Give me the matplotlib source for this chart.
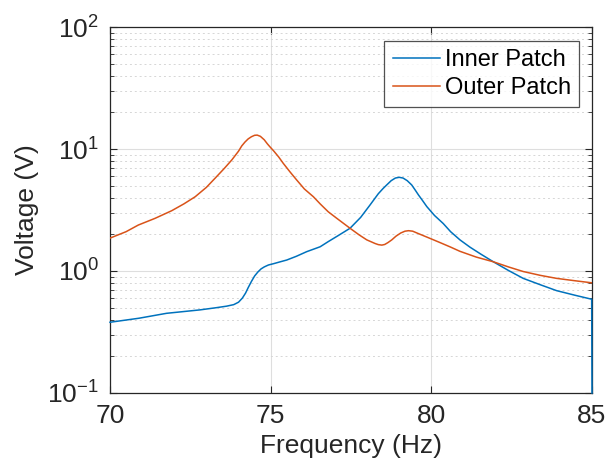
import matplotlib
matplotlib.use("Agg")
import matplotlib.pyplot as plt
from matplotlib.ticker import LogLocator, FixedLocator, NullFormatter

plt.rcParams['font.family'] = ['Liberation Sans', 'DejaVu Sans']
plt.rcParams['mathtext.fontset'] = 'custom'
plt.rcParams['mathtext.rm'] = 'Liberation Sans'
plt.rcParams['mathtext.it'] = 'Liberation Sans:italic'
plt.rcParams['mathtext.bf'] = 'Liberation Sans:bold'

# Data
inner_freq = [70.0, 70.9, 71.76, 72.8, 73.3, 73.63, 73.85, 74.0, 74.12, 74.22, 74.3, 74.4, 74.5,
              74.6, 74.7, 74.8, 74.93, 75.1, 75.3, 75.5, 75.8, 76.12, 76.54, 76.79, 77.1,
              77.47, 77.8, 78.09, 78.35, 78.5, 78.61, 78.75, 78.88, 79.0, 79.12, 79.25, 79.39,
              79.5, 79.6, 79.72, 79.86, 80.1, 80.37, 80.6, 80.89, 81.2, 81.55, 81.93, 82.4,
              82.86, 83.4, 83.9, 84.5, 84.99, 85.0]
inner_volt = [0.38, 0.41, 0.45, 0.48, 0.50, 0.515, 0.53, 0.555, 0.60, 0.66, 0.73, 0.82, 0.91,
              0.98, 1.04, 1.08, 1.12, 1.15, 1.19, 1.23, 1.32, 1.44, 1.58, 1.74, 1.95,
              2.24, 2.75, 3.47, 4.3, 4.75, 5.07, 5.5, 5.78, 5.86, 5.78, 5.5, 5.07,
              4.6, 4.2, 3.8, 3.37, 2.85, 2.45, 2.1, 1.80, 1.57, 1.37, 1.19, 1.01,
              0.87, 0.77, 0.69, 0.63, 0.587, 0.1]

outer_freq = [70.0, 70.5, 70.88, 71.4, 71.92, 72.3, 72.65, 73.0, 73.27, 73.55, 73.79, 74.0,
              74.1, 74.2, 74.3, 74.4, 74.5, 74.58, 74.68, 74.8, 74.9, 74.98, 75.1, 75.25,
              75.39, 75.6, 75.81, 76.05, 76.33, 76.54, 76.79, 77.06, 77.47, 77.75, 77.99, 78.25,
              78.35, 78.46, 78.55, 78.65, 78.77, 78.9, 79.05, 79.18, 79.29, 79.42, 79.55, 79.75,
              79.96, 80.27, 80.6, 80.89, 81.4, 81.93, 82.4, 82.86, 83.4, 83.9, 84.5, 85.0]
outer_volt = [1.86, 2.1, 2.38, 2.7, 3.12, 3.55, 4.06, 4.85, 5.76, 6.9, 8.13, 9.6,
              10.6, 11.4, 12.1, 12.6, 12.95, 13.0, 12.7, 11.9, 11.0, 10.4, 9.6, 8.6,
              7.64, 6.5, 5.57, 4.7, 4.06, 3.55, 3.06, 2.70, 2.24, 1.98, 1.80, 1.68,
              1.645, 1.63, 1.65, 1.71, 1.80, 1.93, 2.05, 2.12, 2.14, 2.12, 2.05, 1.95,
              1.85, 1.71, 1.57, 1.45, 1.3, 1.19, 1.08, 0.99, 0.92, 0.87, 0.83, 0.80]

x_ticks = [70, 75, 80, 85]
series_names = ['Inner Patch', 'Outer Patch']

txt = '#262626'
fig = plt.figure(figsize=(6.07, 4.74), dpi=100)
ax = fig.add_axes([110/607, 1 - 393/474, (592-110)/607, (393-27)/474])

ax.plot(inner_freq, inner_volt, color='#0072BD', lw=1.1, label=series_names[0],
        zorder=3, clip_on=False)
ax.plot(outer_freq, outer_volt, color='#D95319', lw=1.1, label=series_names[1], zorder=3)

ax.set_yscale('log')
ax.set_xlim(70, 85)
ax.set_ylim(0.1, 100)
ax.xaxis.set_major_locator(FixedLocator(x_ticks))
ax.yaxis.set_major_locator(LogLocator(base=10, numticks=10))
ax.yaxis.set_minor_locator(LogLocator(base=10, subs=range(2, 10), numticks=20))
ax.yaxis.set_minor_formatter(NullFormatter())

ax.grid(True, which='major', color='#dedede', lw=0.8)
ax.grid(True, which='minor', axis='y', color='#d6d6d6', lw=0.7, ls=(0, (2, 3)))
ax.set_axisbelow(True)

ax.tick_params(which='both', direction='in', top=True, right=True, colors=txt,
               labelcolor=txt)
ax.tick_params(which='major', length=5, width=0.8, labelsize=19, pad=8)
ax.tick_params(which='minor', length=3, width=0.6)
for s in ax.spines.values():
    s.set_color(txt)
    s.set_linewidth(0.9)

ax.set_xlabel('Frequency (Hz)', fontsize=19, color=txt, labelpad=4)
ax.set_ylabel('Voltage (V)', fontsize=19, color=txt, labelpad=6)

leg = ax.legend(loc='upper right', bbox_to_anchor=(1 - 13/482, 1 - 14/366),
                fontsize=17, frameon=True, fancybox=False, handlelength=2.0,
                handletextpad=0.2, borderpad=0.35, labelspacing=0.25,
                borderaxespad=0)
leg.get_frame().set_edgecolor(txt)
leg.get_frame().set_linewidth(0.9)
leg.set_zorder(5)
for t in leg.get_texts():
    t.set_color('#000000')

fig.savefig('out.png', dpi=100)
